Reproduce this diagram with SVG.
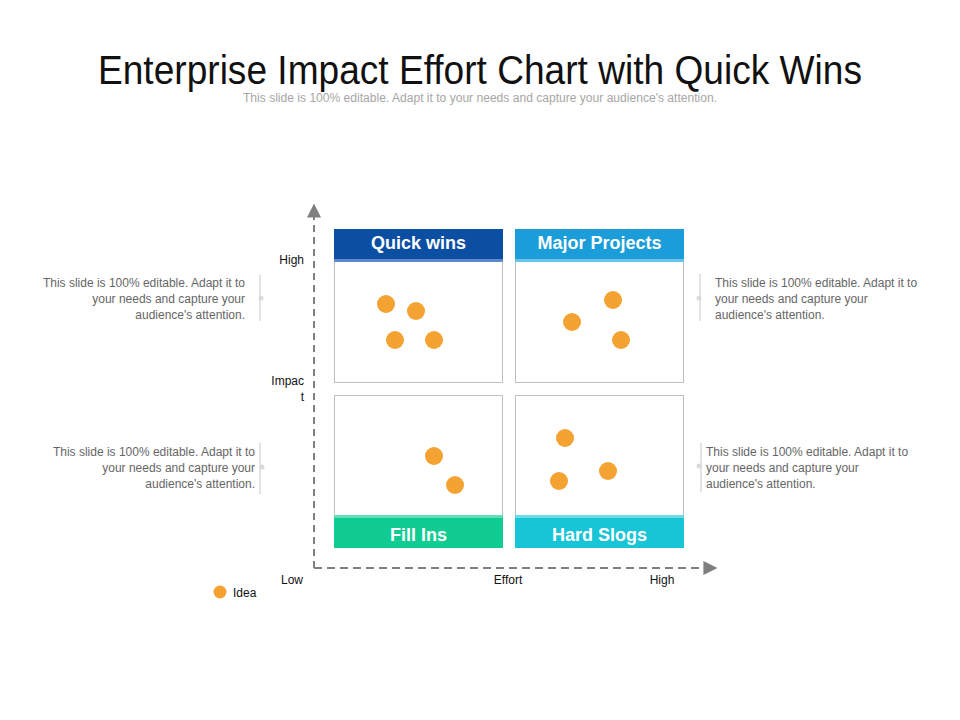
<svg xmlns="http://www.w3.org/2000/svg" width="960" height="720" viewBox="0 0 960 720">
<style>
.title{font-family:"Liberation Sans",Arial,sans-serif;font-size:40px;fill:#111;}
.sub{font-family:"Liberation Sans",Arial,sans-serif;font-size:12px;fill:#a6a6a6;}
.desc{font-family:"Liberation Sans",Arial,sans-serif;font-size:12px;fill:#666;}
.ax{font-family:"Liberation Sans",Arial,sans-serif;font-size:12px;fill:#111;}
.hdr{font-family:"Liberation Sans",Arial,sans-serif;font-size:18px;font-weight:bold;fill:#fff;text-anchor:middle;}
.box{fill:#fff;stroke:#bfbfbf;stroke-width:1;}
.dot{fill:#f4a232;}
.axis{stroke:#7f7f7f;stroke-width:2;fill:none;}
.sep{stroke:#e3e3e3;stroke-width:2;}
.sepdot{fill:#d9d9d9;}
</style>
<defs>
<marker id="arr" viewBox="0 0 10 10" refX="9" refY="5" markerWidth="14" markerHeight="14" markerUnits="userSpaceOnUse" orient="auto">
<path d="M0,0 L10,5 L0,10 Z" fill="#7f7f7f"/>
</marker>
</defs>
<rect width="960" height="720" fill="#fff"/>
<text class="title" x="480" y="84" text-anchor="middle" textLength="764" lengthAdjust="spacingAndGlyphs">Enterprise Impact Effort Chart with Quick Wins</text>
<text class="sub" x="480" y="102" text-anchor="middle" textLength="474" lengthAdjust="spacingAndGlyphs">This slide is 100% editable. Adapt it to your needs and capture your audience's attention.</text>

<g id="connectors">
<line class="axis" x1="314" y1="568" x2="314" y2="205" stroke-dasharray="7 5" marker-end="url(#arr)"/>
<line class="axis" x1="314" y1="568" x2="716" y2="568" stroke-dasharray="8 5" marker-end="url(#arr)"/>
</g>

<g id="quick-wins">
<rect class="box" x="334.5" y="259.5" width="168" height="123"/>
<rect x="334" y="229" width="169" height="30" fill="#0b4fa3"/>
<rect x="334" y="259" width="169" height="3" fill="#5b8bc7"/>
<text class="hdr" x="418.5" y="249">Quick wins</text>
<circle class="dot" cx="386" cy="304" r="9"/>
<circle class="dot" cx="416" cy="311" r="9"/>
<circle class="dot" cx="395" cy="340" r="9"/>
<circle class="dot" cx="434" cy="340" r="9"/>
</g>

<g id="major-projects">
<rect class="box" x="515.5" y="259.5" width="168" height="123"/>
<rect x="515" y="229" width="169" height="30" fill="#1a9dd8"/>
<rect x="515" y="259" width="169" height="3" fill="#6cc3ea"/>
<text class="hdr" x="599.5" y="249">Major Projects</text>
<circle class="dot" cx="572" cy="322" r="9"/>
<circle class="dot" cx="613" cy="300" r="9"/>
<circle class="dot" cx="621" cy="340" r="9"/>
</g>

<g id="fill-ins">
<rect class="box" x="334.5" y="395.5" width="168" height="122"/>
<rect x="334" y="515" width="169" height="3" fill="#62deb8"/>
<rect x="334" y="518" width="169" height="30" fill="#10cc93"/>
<text class="hdr" x="418.5" y="541">Fill Ins</text>
<circle class="dot" cx="434" cy="456" r="9"/>
<circle class="dot" cx="455" cy="485" r="9"/>
</g>

<g id="hard-slogs">
<rect class="box" x="515.5" y="395.5" width="168" height="122"/>
<rect x="515" y="515" width="169" height="3" fill="#6ddbe6"/>
<rect x="515" y="518" width="169" height="30" fill="#17c5d6"/>
<text class="hdr" x="599.5" y="541">Hard Slogs</text>
<circle class="dot" cx="565" cy="438" r="9"/>
<circle class="dot" cx="608" cy="471" r="9"/>
<circle class="dot" cx="559" cy="481" r="9"/>
</g>

<g id="axis-labels">
<text class="ax" x="304" y="264" text-anchor="end">High</text>
<text class="ax" x="304" y="385" text-anchor="end">Impac</text>
<text class="ax" x="304" y="401" text-anchor="end">t</text>
<text class="ax" x="292" y="584" text-anchor="middle">Low</text>
<text class="ax" x="508" y="584" text-anchor="middle">Effort</text>
<text class="ax" x="662" y="584" text-anchor="middle">High</text>
</g>

<g id="legend">
<circle class="dot" cx="220" cy="592" r="6.5"/>
<text class="ax" x="233" y="597">Idea</text>
</g>

<g id="note-left-top">
<line class="sep" x1="260" y1="275" x2="260" y2="321"/>
<circle class="sepdot" cx="261" cy="298" r="2.5"/>
<text class="desc" x="245" y="287" text-anchor="end">This slide is 100% editable. Adapt it to</text>
<text class="desc" x="245" y="303" text-anchor="end">your needs and capture your</text>
<text class="desc" x="245" y="319" text-anchor="end">audience's attention.</text>
</g>

<g id="note-left-bottom">
<line class="sep" x1="260" y1="443" x2="260" y2="494"/>
<circle class="sepdot" cx="262" cy="467" r="2.5"/>
<text class="desc" x="255" y="456" text-anchor="end">This slide is 100% editable. Adapt it to</text>
<text class="desc" x="255" y="472" text-anchor="end">your needs and capture your</text>
<text class="desc" x="255" y="488" text-anchor="end">audience's attention.</text>
</g>

<g id="note-right-top">
<line class="sep" x1="700" y1="274" x2="700" y2="321"/>
<circle class="sepdot" cx="699" cy="298" r="2.5"/>
<text class="desc" x="715" y="287">This slide is 100% editable. Adapt it to</text>
<text class="desc" x="715" y="303">your needs and capture your</text>
<text class="desc" x="715" y="319">audience's attention.</text>
</g>

<g id="note-right-bottom">
<line class="sep" x1="701" y1="443" x2="701" y2="492"/>
<circle class="sepdot" cx="699" cy="466" r="2.5"/>
<text class="desc" x="706" y="456">This slide is 100% editable. Adapt it to</text>
<text class="desc" x="706" y="472">your needs and capture your</text>
<text class="desc" x="706" y="488">audience's attention.</text>
</g>
</svg>
